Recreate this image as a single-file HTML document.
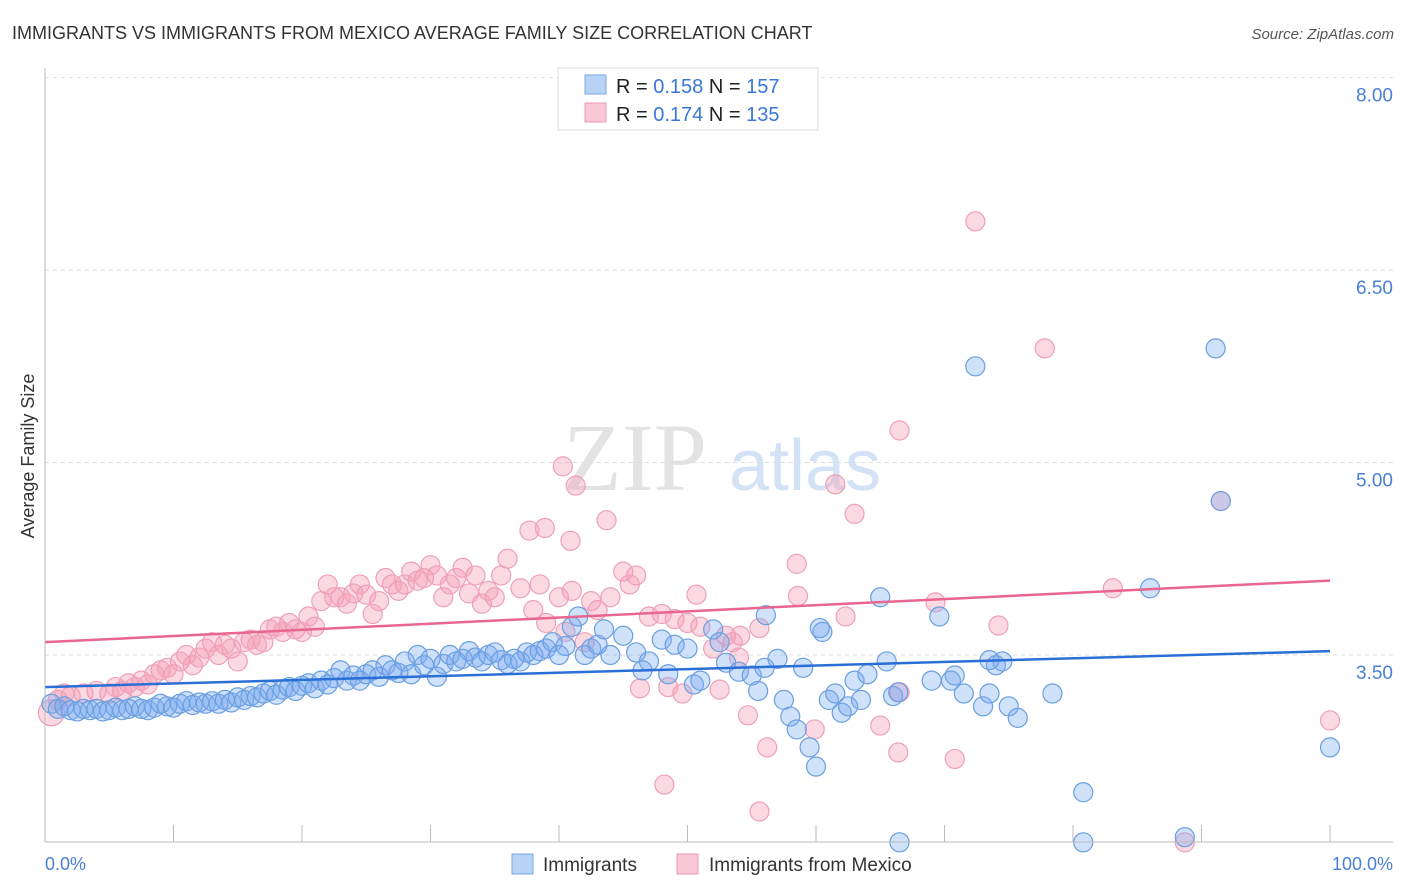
<!DOCTYPE html>
<html><head><meta charset="utf-8"><style>
body{margin:0;width:1406px;height:892px;background:#fff;font-family:"Liberation Sans",sans-serif;overflow:hidden}
svg{position:absolute;left:0;top:0}
</style></head><body>
<svg id="chart" width="1406" height="892">
<text x="12" y="39" font-size="18" fill="#333">IMMIGRANTS VS IMMIGRANTS FROM MEXICO AVERAGE FAMILY SIZE CORRELATION CHART</text>
<text x="1394" y="39" font-size="15" fill="#555" font-style="italic" text-anchor="end">Source: ZipAtlas.com</text>
<text x="34" y="456" font-size="18" fill="#333" text-anchor="middle" transform="rotate(-90 34 456)">Average Family Size</text>
<g><text x="635" y="490" font-size="96" fill="#ddd" font-family="Liberation Serif" text-anchor="middle" opacity="0.8">ZIP</text><text x="805" y="490" font-size="72" fill="#c9dcf3" text-anchor="middle" opacity="0.8">atlas</text></g>
<g id="grid"></g><g id="pts"></g><g id="trend"></g>
<line x1="45" y1="68" x2="45" y2="842" stroke="#bbb"/>
<line x1="45" y1="842" x2="1393" y2="842" stroke="#bbb"/>
<text x="45" y="870" font-size="18" fill="#4a7fd8">0.0%</text>
<text x="1393" y="870" font-size="18" fill="#4a7fd8" text-anchor="end">100.0%</text>
<g>
<rect x="558" y="68" width="260" height="62" fill="#fff" stroke="#ddd"/>
<rect x="585" y="75" width="21" height="19" fill="#b8d2f5" stroke="#7aa7e6"/>
<rect x="585" y="103" width="21" height="19" fill="#f9c8d6" stroke="#ef9ab4"/>
<text x="616" y="93" font-size="20" fill="#222">R = <tspan fill="#3a78d8">0.158</tspan>   N = <tspan fill="#3a78d8">157</tspan></text>
<text x="616" y="121" font-size="20" fill="#222">R = <tspan fill="#3a78d8">0.174</tspan>   N = <tspan fill="#3a78d8">135</tspan></text>
</g>
<g>
<rect x="512" y="854" width="21" height="20" fill="#b8d2f5" stroke="#7aa7e6"/>
<text x="543" y="871" font-size="19" fill="#333">Immigrants</text>
<rect x="677" y="854" width="21" height="20" fill="#f9c8d6" stroke="#ef9ab4"/>
<text x="709" y="871" font-size="19" fill="#333">Immigrants from Mexico</text>
</g>
</svg>
<script>
const yTicks=[3.5,5.0,6.5,8.0];
const yTickLabels=["3.50","5.00","6.50","8.00"];
const xTickVals=[0,10,20,30,40,50,60,70,80,90,100];
const blueX=[0.5,1,1.5,2,2.5,3,3.5,4,4.5,5,5.5,6,6.5,7,7.5,8,8.5,9,9.5,10,10.5,11,11.5,12,12.5,13,13.5,14,14.5,15,15.5,16,16.5,17,17.5,18,18.5,19,19.5,20,20.5,21,21.5,22,22.5,23,23.5,24,24.5,25,25.5,26,26.5,27,27.5,28,28.5,29,29.5,30,30.5,31,31.5,32,32.5,33,33.5,34,34.5,35,35.5,36,36.5,37,37.5,38,38.5,39,39.5,40,40.5,41,41.5,42,42.5,43,43.5,44,45,46,46.5,47,48,48.5,49,50,50.5,51,52,52.5,53,54,55,55.5,56,57,57.5,58,58.5,59,59.5,60,60.5,61,61.5,62,62.5,63,63.5,64,65,65.5,66,66.5,69,69.6,70.5,71.5,72.4,73,73.5,74,74.5,75,75.7,78.4,80.8,88.7,91.1,100,91.5,86,66.4,80.8,70.8,73.5,56.1,60.3];
const blueY=[3.12,3.08,3.1,3.07,3.06,3.08,3.07,3.08,3.06,3.07,3.09,3.07,3.08,3.1,3.08,3.07,3.09,3.12,3.1,3.09,3.12,3.14,3.11,3.13,3.12,3.14,3.12,3.15,3.13,3.17,3.15,3.18,3.17,3.2,3.22,3.19,3.23,3.25,3.22,3.26,3.28,3.24,3.3,3.27,3.32,3.38,3.3,3.34,3.3,3.35,3.38,3.33,3.42,3.38,3.36,3.45,3.35,3.5,3.42,3.47,3.33,3.43,3.5,3.45,3.47,3.53,3.48,3.45,3.5,3.52,3.46,3.43,3.47,3.45,3.52,3.5,3.53,3.55,3.6,3.5,3.57,3.72,3.8,3.5,3.55,3.58,3.7,3.5,3.65,3.52,3.38,3.45,3.62,3.35,3.58,3.55,3.27,3.3,3.7,3.6,3.44,3.37,3.34,3.22,3.4,3.47,3.15,3.02,2.92,3.4,2.78,2.63,3.68,3.15,3.2,3.05,3.1,3.3,3.15,3.35,3.95,3.45,3.18,2.04,3.3,3.8,3.3,3.2,5.75,3.1,3.2,3.42,3.45,3.1,3.01,3.2,2.43,2.08,5.89,2.78,4.7,4.02,3.21,2.04,3.34,3.46,3.81,3.71];
const pinkX=[0.5,1,1.5,2,3,4,5,5.5,6,6.5,7,7.5,8,8.5,9,9.5,10,10.5,11,11.5,12,12.5,13,13.5,14,14.5,15,15.5,16,16.5,17,17.5,18,18.5,19,19.5,20,20.5,21,21.5,22,22.5,23,23.5,24,24.5,25,25.5,26,26.5,27,27.5,28,28.5,29,29.5,30,30.5,31,31.5,32,32.5,33,33.5,34,34.5,35,35.5,36,37,38,38.5,39,40,40.5,41,42,42.5,43,44,45,45.5,46,47,48,48.5,49,50,51,52,53,53.5,54,72.4,77.8,66.5,40.3,41.3,61.5,63,43.7,37.7,38.9,40.9,58.5,69.3,74.2,66.5,65,70.8,54.7,56.2,55.6,48.2,100,59.9,62.3,58.6,50.7,52.5,49.6,46.3,54.1,55.6,91.5,88.7,66.4,83.1];
const pinkY=[3.05,3.15,3.2,3.18,3.2,3.22,3.2,3.25,3.22,3.28,3.25,3.3,3.27,3.35,3.38,3.4,3.35,3.45,3.5,3.42,3.48,3.55,3.6,3.5,3.58,3.55,3.45,3.6,3.62,3.58,3.6,3.7,3.72,3.68,3.75,3.7,3.68,3.8,3.72,3.92,4.05,3.95,3.95,3.9,3.98,4.05,3.97,3.82,3.92,4.1,4.05,4.0,4.05,4.15,4.08,4.1,4.2,4.12,3.95,4.05,4.1,4.18,3.98,4.12,3.9,4.0,3.95,4.12,4.25,4.02,3.85,4.05,3.75,3.95,3.68,4.0,3.6,3.92,3.85,3.95,4.15,4.05,4.12,3.8,3.82,3.25,3.78,3.75,3.72,3.55,3.65,3.6,3.48,6.88,5.89,5.25,4.97,4.82,4.83,4.6,4.55,4.47,4.49,4.39,4.21,3.91,3.73,3.21,2.95,2.69,3.03,2.78,2.28,2.49,2.99,2.92,3.8,3.96,3.97,3.23,3.2,3.24,3.65,3.71,4.7,2.04,2.74,4.02];
const blueTrend=[3.25,3.53];
const pinkTrend=[3.6,4.08];
const NS="http://www.w3.org/2000/svg";
const X=v=>45+v*12.85;
const Y=v=>655-(v-3.5)*128.3;
function mk(tag,attrs,parent){const e=document.createElementNS(NS,tag);for(const k in attrs)e.setAttribute(k,attrs[k]);parent.appendChild(e);return e;}
const grid=document.getElementById('grid');
yTicks.forEach((t,i)=>{
 const l=mk('line',{x1:45,x2:1393,y1:Y(t),y2:Y(t),stroke:'#ddd','stroke-dasharray':'4,4'},grid);
 
 
 const tx=mk('text',{x:1393,y:Y(t)+24,'font-size':19,fill:'#4a7fd8','text-anchor':'end'},grid);
 tx.textContent=yTickLabels[i];
 
 
});
xTickVals.forEach(v=>{
 const l=mk('line',{x1:X(v),x2:X(v),y1:825,y2:842,stroke:'#bbb'},grid);
 
 
});
const pts=document.getElementById('pts');
pinkX.forEach((x,i)=>{
 const c=mk('circle',{cx:X(x),cy:Y(pinkY[i]),r:(i==0?13:9.5),fill:'rgba(245,160,185,0.4)',stroke:'#eea0b8','stroke-width':1.2},pts);
 
 
});
blueX.forEach((x,i)=>{
 const c=mk('circle',{cx:X(x),cy:Y(blueY[i]),r:9.5,fill:'rgba(120,170,240,0.35)',stroke:'#6a9fe0','stroke-width':1.2},pts);
 
 
});
const tr=document.getElementById('trend');
const bl=mk('line',{x1:X(0),x2:X(100),y1:Y(blueTrend[0]),y2:Y(blueTrend[1]),stroke:'#2a6fd6','stroke-width':2.5},tr);


const pl=mk('line',{x1:X(0),x2:X(100),y1:Y(pinkTrend[0]),y2:Y(pinkTrend[1]),stroke:'#e8668f','stroke-width':2.5},tr);


</script>
</body></html>
